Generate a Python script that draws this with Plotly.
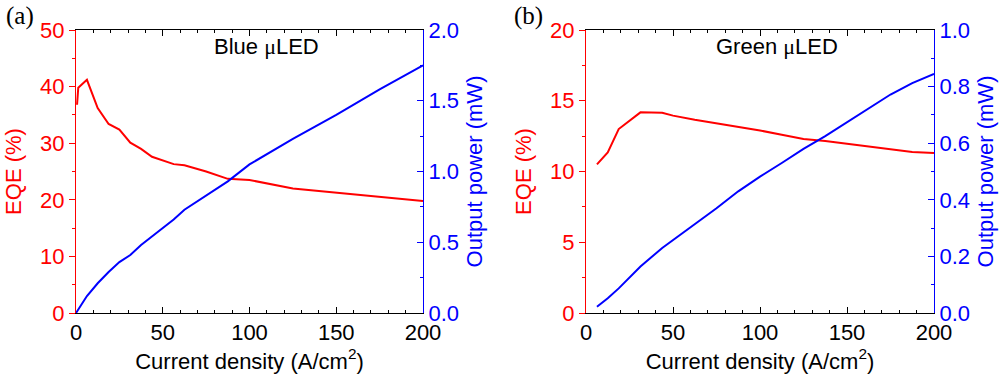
import plotly.graph_objects as go

# Panel (a) Blue µLED
blue_j = [0.6, 1.3, 6.3, 12.5, 18.8, 25, 31.3, 37.5, 43.8, 50, 56.3, 62.5, 75, 87.5, 100, 125, 150, 175, 200]
blue_eqe = [36.8, 39.8, 41.2, 36.2, 33.4, 32.4, 30.1, 29.0, 27.6, 27.0, 26.3, 26.1, 25.0, 23.7, 23.5, 22.0, 21.3, 20.6, 19.8]
blue_pow_j = [0, 6.3, 12.5, 18.8, 25, 31.3, 37.5, 43.8, 50, 56.3, 62.5, 75, 87.5, 100, 125, 150, 175, 200]
blue_pow = [0.0, 0.12, 0.21, 0.29, 0.36, 0.41, 0.48, 0.54, 0.60, 0.66, 0.73, 0.83, 0.93, 1.05, 1.23, 1.40, 1.58, 1.75]

# Panel (b) Green µLED
green_j = [6.3, 12.5, 18.8, 31.3, 43.8, 50, 62.5, 75, 87.5, 100, 112.5, 125, 137.5, 150, 162.5, 175, 187.5, 200]
green_eqe = [10.5, 11.35, 13.0, 14.18, 14.15, 13.95, 13.65, 13.4, 13.2, 12.9, 12.6, 12.3, 12.15, 11.95, 11.75, 11.55, 11.38, 11.3]
green_pow = [0.022, 0.052, 0.087, 0.164, 0.23, 0.258, 0.315, 0.37, 0.43, 0.482, 0.53, 0.58, 0.625, 0.675, 0.725, 0.772, 0.812, 0.845]

x_ticks = [0, 50, 100, 150, 200]
blue_eqe_ticks = [0, 10, 20, 30, 40, 50]
blue_pow_ticks = [0.0, 0.5, 1.0, 1.5, 2.0]
green_eqe_ticks = [0, 5, 10, 15, 20]
green_pow_ticks = [0.0, 0.2, 0.4, 0.6, 0.8, 1.0]

RED = "#ff0000"
BLUE = "#0000ff"
FONT = "Liberation Sans, Arial, sans-serif"
SERIF = "Liberation Serif, Times New Roman, serif"
FS = 22

fig = go.Figure()
fig.add_trace(go.Scatter(x=blue_j, y=blue_eqe, mode="lines", line=dict(color=RED, width=2), xaxis="x", yaxis="y"))
fig.add_trace(go.Scatter(x=blue_pow_j, y=blue_pow, mode="lines", line=dict(color=BLUE, width=2), xaxis="x", yaxis="y2"))
fig.add_trace(go.Scatter(x=green_j, y=green_eqe, mode="lines", line=dict(color=RED, width=2), xaxis="x2", yaxis="y3"))
fig.add_trace(go.Scatter(x=green_j, y=green_pow, mode="lines", line=dict(color=BLUE, width=2), xaxis="x2", yaxis="y4"))

ydom = [1 - 313 / 374, 1 - 30 / 374]

def xax(domain, anchor):
    return dict(domain=domain, anchor=anchor, range=[0, 200], tickvals=x_ticks, automargin=False,
                ticks="inside", ticklen=6, tickcolor="black", tickwidth=1,
                minor=dict(dtick=10, ticks="inside", ticklen=3, tickcolor="black"),
                showline=True, linecolor="black", linewidth=1, mirror="ticks",
                showgrid=False, zeroline=False,
                tickfont=dict(family=FONT, size=FS, color="black"),
                title=dict(text="Current density (A/cm<sup>2</sup>)", font=dict(family=FONT, size=FS, color="black"), standoff=0))

def yleft(anchor, rng, vals, mdt, fmt):
    return dict(domain=ydom, anchor=anchor, range=rng, tickvals=vals, ticks="outside", ticklen=6, automargin=False,
                tickcolor=RED, minor=dict(dtick=mdt, ticks="outside", ticklen=3, tickcolor=RED),
                showline=True, linecolor=RED, linewidth=1, showgrid=False, zeroline=False,
                tickformat=fmt, tickfont=dict(family=FONT, size=FS, color=RED),
                title=dict(text="EQE (%)", font=dict(family=FONT, size=FS, color=RED), standoff=12))

def yright(anchor, overlay, rng, vals, mdt, fmt):
    return dict(domain=ydom, anchor=anchor, overlaying=overlay, side="right", range=rng, tickvals=vals,
                ticks="inside", ticklen=6, tickcolor=BLUE, automargin=False,
                minor=dict(dtick=mdt, ticks="inside", ticklen=3, tickcolor=BLUE),
                showline=True, linecolor=BLUE, linewidth=1, showgrid=False, zeroline=False,
                tickformat=fmt, tickfont=dict(family=FONT, size=FS, color=BLUE),
                title=dict(text="Output power (mW)", font=dict(family=FONT, size=FS, color=BLUE), standoff=8))

def px(x, y):
    return x / 1000, 1 - y / 374

MU = "<span style='font-family:Liberation Serif'>μ</span>"
ann = []
for text, x, y, fam, size, anchor in [
    ("(a)", 4, 16, SERIF, 25, "left"),
    ("Blue " + MU + "LED", 266, 46, FONT, FS, "center"),
    ("(b)", 512, 16, SERIF, 25, "left"),
    ("Green " + MU + "LED", 777, 46, FONT, FS, "center"),
]:
    ax_, ay_ = px(x, y)
    ann.append(dict(text=text, x=ax_, y=ay_, xref="paper", yref="paper", showarrow=False,
                    font=dict(family=fam, size=size, color="black"), xanchor=anchor, yanchor="middle"))

fig.update_layout(
    width=1000, height=374, margin=dict(l=0, r=0, t=0, b=0),
    paper_bgcolor="white", plot_bgcolor="white", showlegend=False,
    xaxis=xax([76 / 1000, 423 / 1000], "y"),
    xaxis2=xax([586 / 1000, 934 / 1000], "y3"),
    yaxis=yleft("x", [0, 50], blue_eqe_ticks, 5, "d"),
    yaxis2=yright("x", "y", [0, 2.0], blue_pow_ticks, 0.25, ".1f"),
    yaxis3=yleft("x2", [0, 20], green_eqe_ticks, 2.5, "d"),
    yaxis4=yright("x2", "y3", [0, 1.0], green_pow_ticks, 0.1, ".1f"),
    annotations=ann,
)

fig.write_html("out.html", config={"displayModeBar": False},
               post_script="document.body.style.margin='0';document.body.style.overflow='hidden';")
